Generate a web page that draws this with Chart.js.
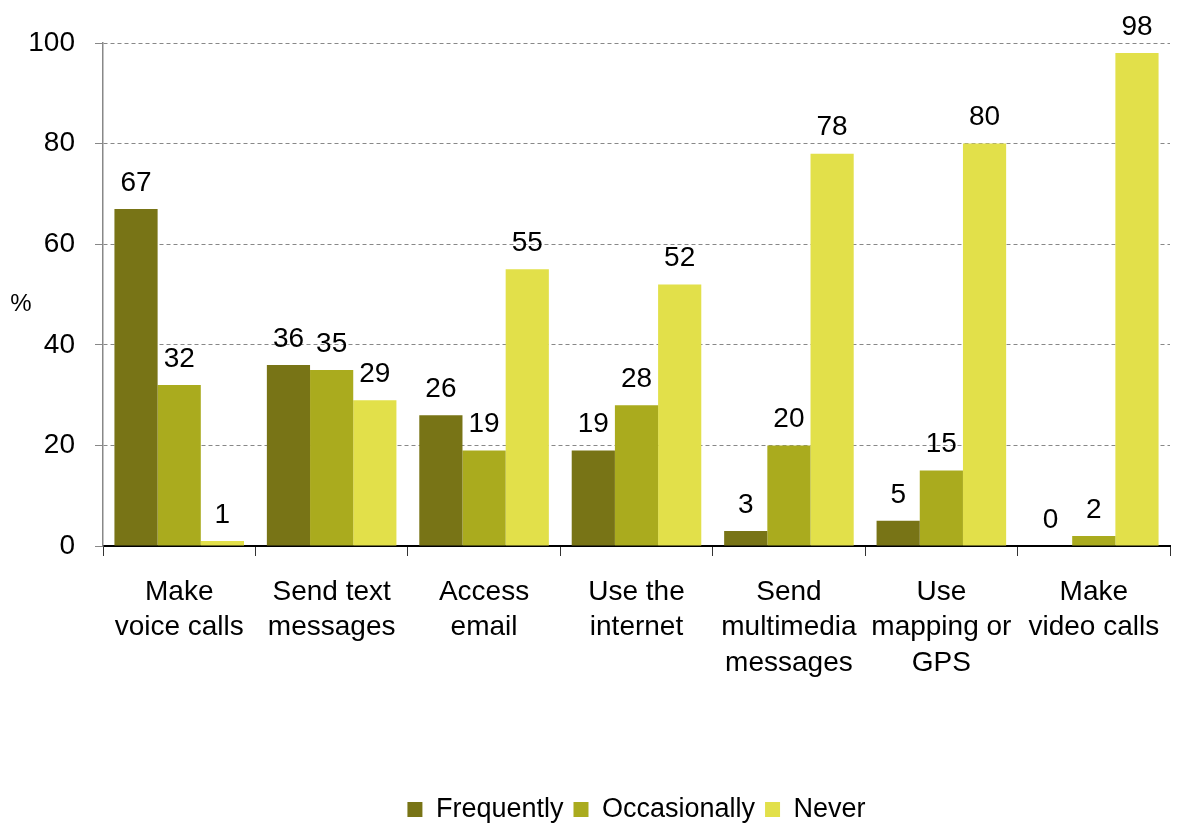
<!DOCTYPE html>
<html>
<head>
<meta charset="utf-8">
<script src="https://cdn.jsdelivr.net/npm/chart.js@4/dist/chart.umd.min.js"></script>
<style>
  html, body { margin: 0; padding: 0; background: #fff; }
  #wrap { width: 1179px; height: 825px; }
</style>
</head>
<body>
<div id="wrap">
    <canvas id="usageChart" width="1179" height="825"></canvas>
</div>

<script>
// Phone activities, each label split over lines
const activities = [
    ['Make', 'voice calls'],
    ['Send text', 'messages'],
    ['Access', 'email'],
    ['Use the', 'internet'],
    ['Send', 'multimedia', 'messages'],
    ['Use', 'mapping or', 'GPS'],
    ['Make', 'video calls']
];

const frequently   = [67, 36, 26, 19, 3, 5, 0];
const occasionally = [32, 35, 19, 28, 20, 15, 2];
const never        = [1, 29, 55, 52, 78, 80, 98];

const yTicks = [0, 20, 40, 60, 80, 100];

const FONT = "'Liberation Sans', Arial, sans-serif";

// value labels above each bar + the "%" axis caption
const barValues = {
    id: 'barValues',
    afterDatasetsDraw(chart) {
        const ctx = chart.ctx;
        ctx.save();
        ctx.font = '28px ' + FONT;
        ctx.fillStyle = '#000';
        ctx.textAlign = 'center';
        ctx.textBaseline = 'bottom';
        chart.data.datasets.forEach((ds, i) => {
            chart.getDatasetMeta(i).data.forEach((bar, j) => {
                ctx.fillText(String(ds.data[j]), bar.x, bar.y - 12);
            });
        });
        ctx.font = '24px ' + FONT;
        ctx.textAlign = 'center';
        ctx.textBaseline = 'middle';
        ctx.fillText('%', 21, chart.scales.y.getPixelForValue(48));
        ctx.restore();
    }
};

const ctx = document.getElementById('usageChart').getContext('2d');
new Chart(ctx, {
    type: 'bar',
    data: {
        labels: activities,
        datasets: [
            {
                label: 'Frequently',
                data: frequently,
                backgroundColor: '#787416'
            },
            {
                label: 'Occasionally',
                data: occasionally,
                backgroundColor: '#aaab1e'
            },
            {
                label: 'Never',
                data: never,
                backgroundColor: '#e2e04a'
            }
        ]
    },
    options: {
        responsive: false,
        animation: false,
        devicePixelRatio: 1,
        layout: {
            padding: { top: 43, right: 9, left: 0, bottom: -8 }
        },
        datasets: {
            bar: {
                categoryPercentage: 0.85,
                barPercentage: 1.0,
                borderWidth: 0
            }
        },
        scales: {
            x: {
                grid: {
                    display: true,
                    drawOnChartArea: false,
                    offset: true,
                    tickLength: 10,
                    color: '#333'
                },
                border: { color: '#000', width: 2 },
                ticks: {
                    color: '#000',
                    font: { family: FONT, size: 28, lineHeight: 1.28 },
                    maxRotation: 0,
                    autoSkip: false,
                    padding: 18
                },
                afterFit: function(scale) {
                    scale.height = 240;
                }
            },
            y: {
                min: 0,
                max: 100,
                afterBuildTicks: function(scale) {
                    scale.ticks = yTicks.map(v => ({ value: v }));
                },
                grid: {
                    color: '#888',
                    tickBorderDash: [],
                    tickColor: '#888',
                    tickLength: 8
                },
                border: { color: '#888', width: 1.5, dash: [4, 3] },
                ticks: {
                    color: '#000',
                    font: { family: FONT, size: 28 },
                    padding: 20
                },
                afterFit: function(scale) {
                    scale.width = 103;
                }
            }
        },
        plugins: {
            tooltip: { enabled: false },
            legend: {
                display: true,
                position: 'bottom',
                fullSize: false,
                labels: {
                    color: '#000',
                    font: { family: FONT, size: 27 },
                    boxWidth: 15,
                    boxHeight: 15,
                    padding: 10
                }
            }
        }
    },
    plugins: [barValues]
});
</script>
</body>
</html>
